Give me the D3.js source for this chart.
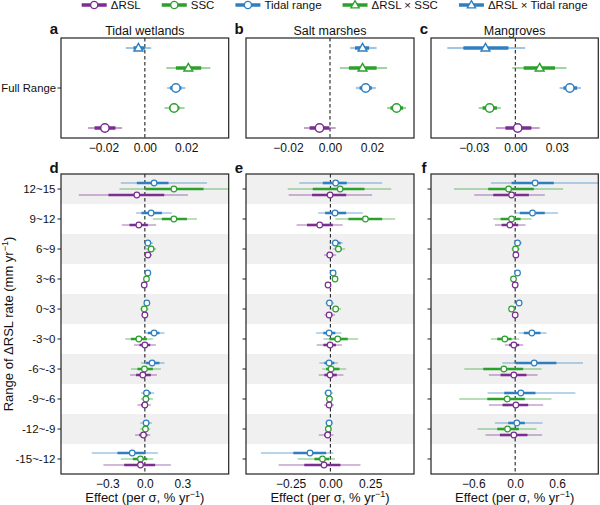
<!DOCTYPE html>
<html>
<head>
<meta charset="utf-8">
<script src="https://cdn.jsdelivr.net/npm/d3@7"></script>
<style>
body { margin: 0; background: #fff; }
text { font-family: "Liberation Sans", Arial, sans-serif; fill: #111; }
</style>
</head>
<body>
<div id="chart"></div>
<script>
// Terms shown in the full-range panels, top to bottom
var terms = ["ΔRSL × Tidal range", "ΔRSL × SSC", "Tidal range", "SSC", "ΔRSL"];
var legendTerms = ["ΔRSL", "SSC", "Tidal range", "ΔRSL × SSC", "ΔRSL × Tidal range"];
var habitats = ["Tidal wetlands", "Salt marshes", "Mangroves"];
var bins = ["12~15", "9~12", "6~9", "3~6", "0~3", "-3~0", "-6~-3", "-9~-6", "-12~-9", "-15~-12"];

// Full range effects: [mean, low95, high95, low50, high50], in terms order
var fullWetlands = [
  [-0.0031, -0.0092, 0.0031, -0.0055, 0.0000],
  [0.0210, 0.0104, 0.0316, 0.0150, 0.0272],
  [0.0150, 0.0108, 0.0196, 0.0122, 0.0177],
  [0.0141, 0.0095, 0.0192, 0.0117, 0.0167],
  [-0.0193, -0.0274, -0.0110, -0.0243, -0.0142]
];
var fullMarshes = [
  [0.0155, 0.0096, 0.0222, 0.0119, 0.0186],
  [0.0155, 0.0047, 0.0272, 0.0090, 0.0222],
  [0.0170, 0.0123, 0.0218, 0.0141, 0.0199],
  [0.0317, 0.0272, 0.0362, 0.0288, 0.0348],
  [-0.0050, -0.0124, 0.0027, -0.0097, -0.0003]
];
var fullMangroves = [
  [-0.0216, -0.0492, 0.0071, -0.0376, -0.0050],
  [0.0176, -0.0022, 0.0370, 0.0060, 0.0287],
  [0.0394, 0.0320, 0.0475, 0.0348, 0.0447],
  [-0.0186, -0.0265, -0.0105, -0.0237, -0.0133],
  [0.0017, -0.0141, 0.0176, -0.0072, 0.0116]
];

// Effects by ΔRSL bin: [mean, low95, high95, low50, high50], in bins order
var wetTR = [
  [0.074, -0.192, 0.496, -0.064, 0.189], [0.050, -0.070, 0.216, -0.027, 0.136],
  [0.024, 0.002, 0.064, 0.010, 0.050], [0.024, 0.014, 0.034, 0.018, 0.030],
  [0.016, -0.005, 0.043, 0.005, 0.030], [0.074, 0.005, 0.157, 0.024, 0.117],
  [0.058, -0.030, 0.157, 0.010, 0.117], [0.013, -0.030, 0.074, -0.011, 0.048],
  [0.010, -0.037, 0.056, -0.015, 0.035], [-0.101, -0.424, 0.104, -0.219, 0.005]
];
var wetSSC = [
  [0.232, -0.203, 0.750, 0.003, 0.469], [0.232, 0.064, 0.416, 0.136, 0.336],
  [0.050, 0.010, 0.090, 0.024, 0.075], [0.013, 0.003, 0.023, 0.007, 0.019],
  [-0.005, -0.037, 0.029, -0.020, 0.012], [-0.048, -0.157, 0.064, -0.112, 0.016],
  [-0.003, -0.110, 0.128, -0.059, 0.064], [0.008, -0.032, 0.064, -0.012, 0.035],
  [0.005, -0.037, 0.043, -0.015, 0.025], [-0.035, -0.192, 0.066, -0.096, 0.019]
];
var wetRSL = [
  [-0.064, -0.528, 0.344, -0.291, 0.155], [-0.048, -0.184, 0.090, -0.123, 0.024],
  [0.024, -0.005, 0.058, 0.008, 0.042], [-0.005, -0.015, 0.005, -0.010, 0.000],
  [0.000, -0.027, 0.027, -0.013, 0.013], [0.000, -0.086, 0.088, -0.043, 0.043],
  [-0.016, -0.118, 0.096, -0.070, 0.048], [0.000, -0.059, 0.048, -0.030, 0.025],
  [-0.011, -0.078, 0.043, -0.045, 0.020], [-0.035, -0.331, 0.208, -0.165, 0.082]
];
var marTR = [
  [0.033, -0.195, 0.325, -0.048, 0.103], [0.029, -0.077, 0.203, -0.033, 0.099],
  [0.031, -0.006, 0.077, 0.012, 0.064], [0.017, 0.007, 0.027, 0.011, 0.023],
  [-0.006, -0.031, 0.023, -0.018, 0.010], [-0.008, -0.090, 0.069, -0.044, 0.031],
  [-0.008, -0.069, 0.048, -0.038, 0.025], [-0.013, -0.040, 0.017, -0.027, 0.003],
  [-0.008, -0.031, 0.017, -0.020, 0.006], [-0.128, -0.436, 0.019, -0.233, -0.027]
];
var marSSC = [
  [0.061, -0.268, 0.382, -0.111, 0.214], [0.220, 0.031, 0.407, 0.113, 0.325],
  [0.050, 0.015, 0.092, 0.030, 0.072], [0.029, 0.019, 0.039, 0.024, 0.034],
  [0.033, 0.005, 0.067, 0.018, 0.050], [0.046, -0.044, 0.174, -0.006, 0.109],
  [0.004, -0.052, 0.099, -0.027, 0.057], [-0.006, -0.027, 0.015, -0.016, 0.005],
  [-0.013, -0.031, 0.008, -0.022, -0.002], [-0.050, -0.206, 0.029, -0.100, -0.006]
];
var marRSL = [
  [-0.002, -0.262, 0.262, -0.115, 0.099], [-0.067, -0.212, 0.077, -0.147, 0.015],
  [-0.004, -0.040, 0.036, -0.022, 0.018], [-0.015, -0.033, 0.005, -0.024, -0.005],
  [-0.008, -0.037, 0.029, -0.022, 0.012], [-0.002, -0.086, 0.073, -0.044, 0.035],
  [-0.002, -0.073, 0.082, -0.038, 0.040], [-0.008, -0.040, 0.023, -0.024, 0.008],
  [-0.017, -0.073, 0.019, -0.040, 0.000], [-0.040, -0.325, 0.189, -0.164, 0.063]
];
var manTR = [
  [0.286, -0.347, 1.300, -0.052, 0.553], [0.248, 0.010, 0.614, 0.067, 0.424],
  [0.034, -0.019, 0.096, 0.005, 0.065], [0.034, 0.014, 0.054, 0.024, 0.044],
  [0.057, 0.019, 0.096, 0.038, 0.077], [0.239, 0.048, 0.448, 0.124, 0.362],
  [0.272, -0.185, 0.971, 0.010, 0.590], [0.081, -0.395, 0.862, -0.157, 0.290],
  [0.024, -0.290, 0.391, -0.100, 0.138], null
];
var manSSC = [
  [-0.094, -0.876, 0.686, -0.386, 0.267], [-0.052, -0.314, 0.234, -0.209, 0.077],
  [0.005, -0.052, 0.067, -0.024, 0.036], [-0.024, -0.044, -0.004, -0.034, -0.014],
  [-0.052, -0.086, -0.019, -0.070, -0.035], [-0.148, -0.347, 0.057, -0.257, -0.052],
  [-0.162, -0.729, 0.376, -0.457, 0.114], [-0.114, -0.800, 0.519, -0.400, 0.138],
  [-0.109, -0.538, 0.305, -0.257, 0.053], null
];
var manRSL = [
  [-0.052, -0.586, 0.424, -0.314, 0.196], [-0.076, -0.290, 0.148, -0.195, 0.043],
  [0.010, -0.029, 0.048, -0.010, 0.030], [0.000, -0.020, 0.020, -0.010, 0.010],
  [0.000, -0.033, 0.033, -0.016, 0.016], [-0.019, -0.148, 0.114, -0.086, 0.057],
  [-0.019, -0.376, 0.319, -0.209, 0.162], [0.010, -0.376, 0.400, -0.181, 0.186],
  [-0.019, -0.424, 0.386, -0.219, 0.176], null
];

// Axis ranges and ticks
var domA = [-0.0405, 0.0405], ticksA = [-0.02, 0, 0.02];
var domB = [-0.04, 0.04], ticksB = [-0.02, 0, 0.02];
var domC = [-0.061, 0.06], ticksC = [-0.03, 0, 0.03];
var domD = [-0.67, 0.67], ticksD = [-0.3, 0, 0.3];
var domE = [-0.53, 0.525], ticksE = [-0.25, 0, 0.25];
var domF = [-1.205, 1.19], ticksF = [-0.6, 0, 0.6];

var colors = {
  "ΔRSL": "#7b2d92",
  "SSC": "#2ca02c",
  "Tidal range": "#2f7fc0",
  "ΔRSL × SSC": "#2ca02c",
  "ΔRSL × Tidal range": "#2f7fc0"
};
function isTri(t) { return t.indexOf("×") >= 0; }

var svg = d3.select("#chart").append("svg")
    .attr("width", 600)
    .attr("height", 505);

var colX = [[61, 228.7], [246, 414], [431, 598.3]];
var topY = [38, 138], botY = [174, 474];

// ---------- Legend ----------
var lx = 81.7;
legendTerms.forEach(function (t) {
  var g = svg.append("g").attr("transform", "translate(" + lx + ",5)");
  g.append("line").attr("x1", 0).attr("x2", 25).attr("y1", 0).attr("y2", 0)
    .attr("stroke", colors[t]).attr("stroke-width", 3.5);
  if (isTri(t)) {
    g.append("path").attr("d", d3.symbol(d3.symbolTriangle, 30)())
      .attr("transform", "translate(12.5,0.5)")
      .attr("fill", "#fff").attr("stroke", colors[t]).attr("stroke-width", 1.3);
  } else {
    g.append("circle").attr("cx", 12.5).attr("r", 3.6)
      .attr("fill", "#fff").attr("stroke", colors[t]).attr("stroke-width", 1.4);
  }
  var tx = g.append("text").attr("x", 29).attr("y", 4.2)
    .style("font-size", "11.5px").text(t);
  lx += 29 + tx.node().getComputedTextLength() + 21;
});

function frame(g, i, y0, y1, dom, ticks, fmt, letter, yA) {
  var x = d3.scaleLinear().domain(dom).range(colX[i]);
  var id = "clip" + letter;
  svg.append("clipPath").attr("id", id).append("rect")
    .attr("x", colX[i][0]).attr("y", y0)
    .attr("width", colX[i][1] - colX[i][0]).attr("height", y1 - y0);
  var axis = d3.axisBottom(x).tickValues(ticks).tickFormat(d3.format(fmt))
    .tickSize(0).tickPadding(5);
  var ax = g.append("g").attr("transform", "translate(0," + y1 + ")").call(axis);
  ax.select(".domain").remove();
  ax.selectAll("text").style("font-size", "12px").attr("fill", "#111");
  g.append("text").attr("x", colX[i][0] - 7).attr("y", y0 + yA)
    .attr("text-anchor", "middle")
    .style("font-size", "15px").style("font-weight", "bold").text(letter);
  return { x: x, clip: "url(#" + id + ")" };
}

function finish(g, i, x, y0, y1) {
  g.append("line").attr("x1", x(0)).attr("x2", x(0)).attr("y1", y0).attr("y2", y1)
    .attr("stroke", "#222").attr("stroke-width", 1.1).attr("stroke-dasharray", "3.5,2.5");
}

function border(g, i, y0, y1) {
  g.append("rect").attr("x", colX[i][0]).attr("y", y0)
    .attr("width", colX[i][1] - colX[i][0]).attr("height", y1 - y0)
    .attr("fill", "none").attr("stroke", "#222").attr("stroke-width", 1.2);
}

// ---------- Top panels (full range) ----------
var topData = [fullWetlands, fullMarshes, fullMangroves];
var topDom = [domA, domB, domC], topTicks = [ticksA, ticksB, ticksC];
var topFmt = [".2f", ".2f", ".2f"];
var yTop = d3.scaleBand().domain(terms).range(topY);

topData.forEach(function (rows, i) {
  var g = svg.append("g");
  var f = frame(g, i, topY[0], topY[1], topDom[i], topTicks[i], topFmt[i], "abc"[i], -4);
  var x = f.x;
  g.append("text").attr("x", (colX[i][0] + colX[i][1]) / 2).attr("y", topY[0] - 3)
    .attr("text-anchor", "middle").style("font-size", "12.5px").text(habitats[i]);
  finish(g, i, x, topY[0], topY[1]);
  var items = rows.map(function (d, j) { return { t: terms[j], d: d }; });
  var m = g.append("g").attr("clip-path", f.clip);
  m.selectAll(".thin").data(items).join("line")
    .attr("x1", function (o) { return x(o.d[1]); }).attr("x2", function (o) { return x(o.d[2]); })
    .attr("y1", function (o) { return yTop(o.t) + yTop.bandwidth() / 2; })
    .attr("y2", function (o) { return yTop(o.t) + yTop.bandwidth() / 2; })
    .attr("stroke", function (o) { return colors[o.t]; })
    .attr("stroke-opacity", 0.45).attr("stroke-width", 2.2);
  m.selectAll(".thick").data(items).join("line")
    .attr("x1", function (o) { return x(o.d[3]); }).attr("x2", function (o) { return x(o.d[4]); })
    .attr("y1", function (o) { return yTop(o.t) + yTop.bandwidth() / 2; })
    .attr("y2", function (o) { return yTop(o.t) + yTop.bandwidth() / 2; })
    .attr("stroke", function (o) { return colors[o.t]; })
    .attr("stroke-width", 3.5);
  items.forEach(function (o) {
    var cy = yTop(o.t) + yTop.bandwidth() / 2;
    if (isTri(o.t)) {
      m.append("path").attr("d", d3.symbol(d3.symbolTriangle, 34)())
        .attr("transform", "translate(" + x(o.d[0]) + "," + (cy + 0.5) + ")")
        .attr("fill", "#fff").attr("stroke", colors[o.t]).attr("stroke-width", 1.4);
    } else {
      m.append("circle").attr("cx", x(o.d[0])).attr("cy", cy).attr("r", 4.2)
        .attr("fill", "#fff").attr("stroke", colors[o.t]).attr("stroke-width", 1.5);
    }
  });
  if (i === 0) {
    var yl = d3.scaleBand().domain(["Full Range"]).range(topY);
    var ay = g.append("g").attr("transform", "translate(" + colX[0][0] + ",0)")
      .call(d3.axisLeft(yl).tickSize(3.5).tickPadding(1.5));
    ay.select(".domain").remove();
    ay.selectAll("text").style("font-size", "11.3px").attr("fill", "#111");
    ay.selectAll("line").attr("stroke", "#222");
  }
  border(g, i, topY[0], topY[1]);
});

// ---------- Bottom panels (by ΔRSL bin) ----------
var botData = [
  [wetTR, wetSSC, wetRSL],
  [marTR, marSSC, marRSL],
  [manTR, manSSC, manRSL]
];
var seriesNames = ["Tidal range", "SSC", "ΔRSL"];
var seriesOffset = [-6, 0, 6];
var botDom = [domD, domE, domF], botTicks = [ticksD, ticksE, ticksF];
var botFmt = [".1f", ".2f", ".1f"];
var yBot = d3.scaleBand().domain(bins).range(botY);

botData.forEach(function (series, i) {
  var g = svg.append("g");
  var x = d3.scaleLinear().domain(botDom[i]).range(colX[i]);
  // alternating bands
  g.selectAll(".band").data(bins.filter(function (b, k) { return k % 2 === 0; })).join("rect")
    .attr("x", colX[i][0]).attr("width", colX[i][1] - colX[i][0])
    .attr("y", function (b) { return yBot(b); }).attr("height", yBot.bandwidth())
    .attr("fill", "#f0f0f0");
  var f = frame(g, i, botY[0], botY[1], botDom[i], botTicks[i], botFmt[i], "def"[i], -1);
  finish(g, i, x, botY[0], botY[1]);
  var m = g.append("g").attr("clip-path", f.clip);
  series.forEach(function (vals, s) {
    var items = [];
    vals.forEach(function (d, k) { if (d) items.push({ b: bins[k], d: d }); });
    var col = colors[seriesNames[s]];
    var cy = function (o) { return yBot(o.b) + yBot.bandwidth() / 2 + seriesOffset[s]; };
    m.append("g").selectAll("line").data(items).join("line")
      .attr("x1", function (o) { return x(o.d[1]); }).attr("x2", function (o) { return x(o.d[2]); })
      .attr("y1", cy).attr("y2", cy)
      .attr("stroke", col).attr("stroke-opacity", 0.45).attr("stroke-width", 1.4);
    m.append("g").selectAll("line").data(items).join("line")
      .attr("x1", function (o) { return x(o.d[3]); }).attr("x2", function (o) { return x(o.d[4]); })
      .attr("y1", cy).attr("y2", cy)
      .attr("stroke", col).attr("stroke-width", 2.6);
    m.append("g").selectAll("circle").data(items).join("circle")
      .attr("cx", function (o) { return x(o.d[0]); }).attr("cy", cy).attr("r", 2.8)
      .attr("fill", "#fff").attr("stroke", col).attr("stroke-width", 1.2);
  });
  var ay = g.append("g").attr("transform", "translate(" + colX[i][0] + ",0)")
    .call(d3.axisLeft(yBot).tickSize(3.5).tickPadding(2));
  ay.select(".domain").remove();
  ay.selectAll("line").attr("stroke", "#222");
  ay.selectAll("text").style("font-size", "11.5px").attr("fill", "#111");
  if (i > 0) ay.selectAll("text").remove();
  var xl = g.append("text").attr("x", (colX[i][0] + colX[i][1]) / 2).attr("y", 502)
    .attr("text-anchor", "middle").style("font-size", "13px");
  xl.append("tspan").text("Effect (per σ, % yr");
  xl.append("tspan").attr("dy", -5).style("font-size", "9px").text("−1");
  xl.append("tspan").attr("dy", 5).text(")");
  border(g, i, botY[0], botY[1]);
});

// y axis title
var yt = svg.append("text")
  .attr("transform", "translate(13," + ((botY[0] + botY[1]) / 2) + ") rotate(-90)")
  .attr("text-anchor", "middle").style("font-size", "13px");
yt.append("tspan").text("Range of ΔRSL rate (mm yr");
yt.append("tspan").attr("dy", -5).style("font-size", "9px").text("−1");
yt.append("tspan").attr("dy", 5).text(")");
</script>
</body>
</html>
